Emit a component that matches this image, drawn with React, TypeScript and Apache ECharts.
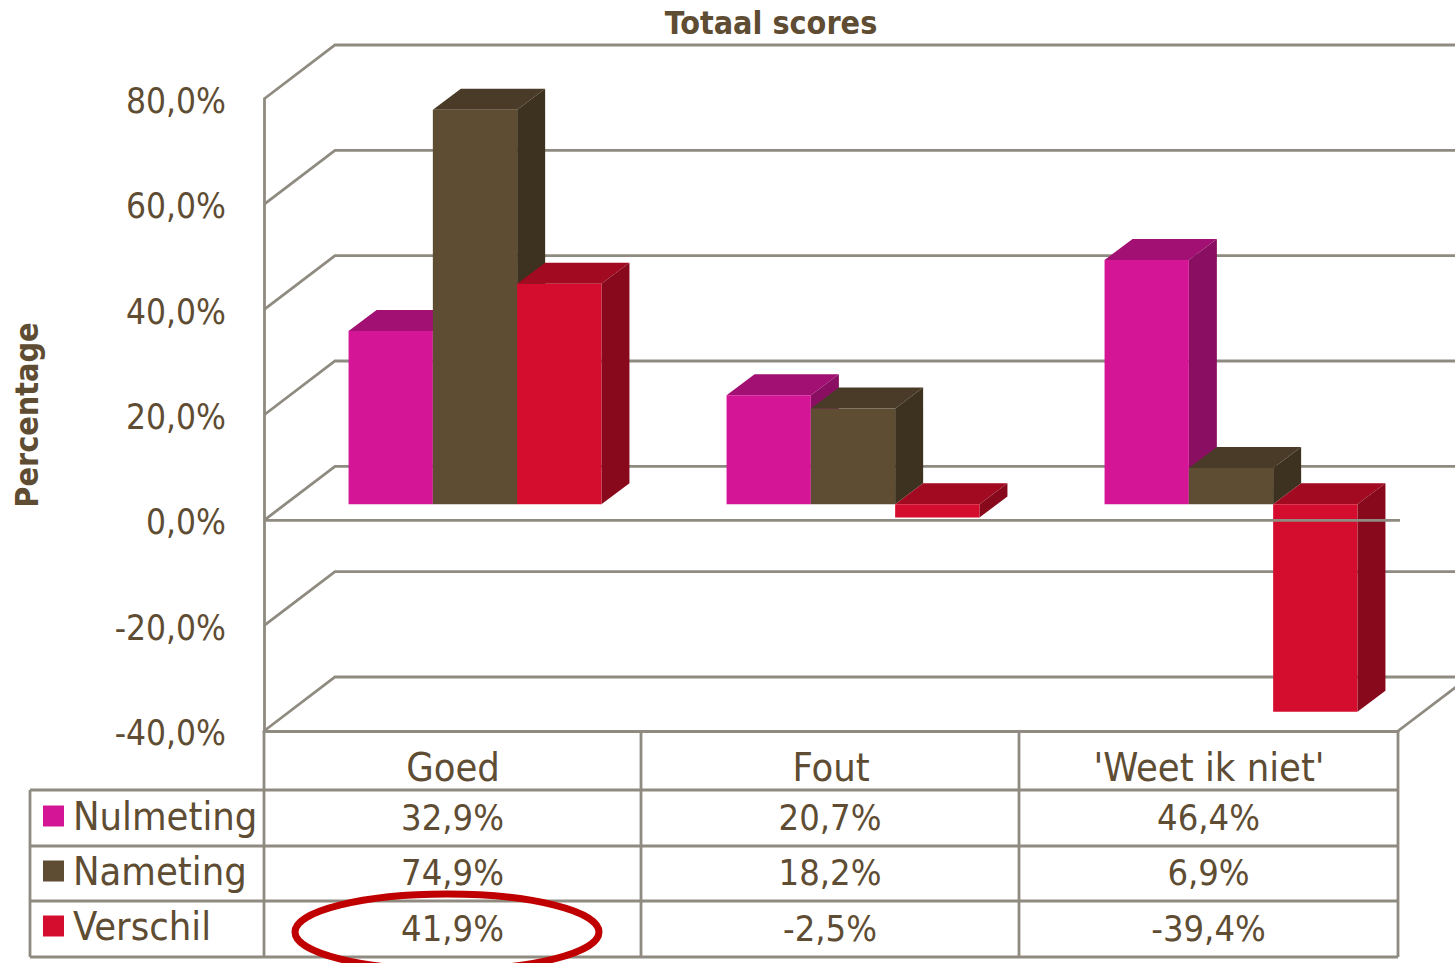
import React, { useEffect, useRef } from "react";
import * as echarts from "echarts";

const categories = ["Goed", "Fout", "'Weet ik niet'"];
const seriesNames = ["Nulmeting", "Nameting", "Verschil"];
const nulmeting = [32.9, 20.7, 46.4];
const nameting = [74.9, 18.2, 6.9];
const verschil = [41.9, -2.5, -39.4];
const yTicks = [-40, -20, 0, 20, 40, 60, 80];

const FONT = "'DejaVu Sans Condensed', 'DejaVu Sans', sans-serif";
const TEXT = "#5e4c33";
const LINE = "#8f8b80";
const LW = 2.8;
const FRONT = ["#d41696", "#5e4c33", "#d40d2e"];
const TOP = ["#a11072", "#493b27", "#a10a20"];
const SIDE = ["#8a0e62", "#3d311f", "#88091c"];
const DEPTH_X = 71, DEPTH_Y = 54;
const BAR_DX = 28, BAR_DY = 21;
const OFF_X = 22, OFF_Y = 16;

const fmt = (v: number) => v.toFixed(1).replace(".", ",") + "%";

const barSeries = (idx: number, name: string, values: number[]) => ({
  type: "custom",
  name,
  z: 3,
  itemStyle: { color: FRONT[idx] },
  data: values.map((v, i) => [i, v]),
  renderItem: (_: any, api: any) => {
    const cat = api.value(0);
    const v = api.value(1);
    const w = api.size([1, 0])[0] * 0.223;
    const cx = api.coord([cat, 0])[0] + OFF_X;
    const x0 = cx + (idx - 1.5) * w;
    const x1 = x0 + w;
    const yT = api.coord([cat, Math.max(v, 0)])[1] - OFF_Y;
    const yB = api.coord([cat, Math.min(v, 0)])[1] - OFF_Y;
    return {
      type: "group",
      children: [
        { type: "polygon", shape: { points: [[x0, yT], [x0 + BAR_DX, yT - BAR_DY], [x1 + BAR_DX, yT - BAR_DY], [x1, yT]] }, style: { fill: TOP[idx] } },
        { type: "polygon", shape: { points: [[x1, yT], [x1 + BAR_DX, yT - BAR_DY], [x1 + BAR_DX, yB - BAR_DY], [x1, yB]] }, style: { fill: SIDE[idx] } },
        { type: "rect", shape: { x: x0, y: yT, width: w, height: yB - yT }, style: { fill: FRONT[idx] } },
      ],
    };
  },
});

const wallSeries = {
  type: "custom",
  name: "wall",
  z: 1,
  silent: true,
  clip: false,
  data: yTicks.map((t) => [0, t]),
  renderItem: (params: any, api: any) => {
    const t = api.value(1);
    const y = api.coord([0, t])[1];
    const cs = params.coordSys;
    const left = cs.x;
    const right = cs.x + cs.width;
    const ls = { stroke: LINE, lineWidth: LW, fill: "none" };
    const pts: number[][] = [[left, y], [left + DEPTH_X, y - DEPTH_Y], [right + DEPTH_X, y - DEPTH_Y]];
    const children: any[] = [{ type: "polyline", shape: { points: pts }, style: ls }];
    if (t === yTicks[0]) {
      children.push({ type: "line", shape: { x1: right, y1: y, x2: right + DEPTH_X, y2: y - DEPTH_Y }, style: ls });
    }
    return { type: "group", children };
  },
};

const zeroLineSeries = {
  type: "custom",
  name: "zero",
  z: 5,
  silent: true,
  clip: false,
  data: [[0, 0]],
  renderItem: (params: any, api: any) => {
    const y = api.coord([0, api.value(1)])[1];
    const cs = params.coordSys;
    return {
      type: "line",
      shape: { x1: cs.x, y1: y, x2: cs.x + cs.width + 2, y2: y },
      style: { stroke: LINE, lineWidth: LW },
    };
  },
};

const colEdges = [264, 641, 1019, 1398];
const rowEdges = [790, 846, 901, 957];
const rowCenters = [817, 872, 928];
const rows = [nulmeting, nameting, verschil];

const hLine = (y: number, x1: number, x2: number) => ({
  type: "line", silent: true, z: 6,
  shape: { x1, y1: y, x2, y2: y }, style: { stroke: LINE, lineWidth: LW },
});
const vLine = (x: number, y1: number, y2: number) => ({
  type: "line", silent: true, z: 6,
  shape: { x1: x, y1, x2: x, y2 }, style: { stroke: LINE, lineWidth: LW },
});

const tableGraphics: any[] = [
  ...rowEdges.map((y) => hLine(y, 30, 1398)),
  vLine(30, rowEdges[0], rowEdges[3]),
  ...colEdges.map((x) => vLine(x, 731, rowEdges[3])),
];
rows.forEach((vals, r) =>
  vals.forEach((v, c) =>
    tableGraphics.push({
      type: "text", z: 7, silent: true,
      x: (colEdges[c] + colEdges[c + 1]) / 2,
      y: rowCenters[r],
      style: { text: fmt(v), fill: TEXT, font: `36px ${FONT}`, align: "center", verticalAlign: "middle" },
    })
  )
);
tableGraphics.push({
  type: "ellipse", z: 8, silent: true,
  shape: { cx: 447, cy: 932, rx: 152, ry: 38 },
  style: { fill: "none", stroke: "#c00000", lineWidth: 7 },
});

export default function App() {
  const ref = useRef<HTMLDivElement>(null);
  useEffect(() => {
    const chart = echarts.init(ref.current!, undefined, { renderer: "svg" });
    chart.setOption({
      animation: false,
      backgroundColor: "#ffffff",
      title: {
        text: "Totaal scores",
        left: 766,
        top: 2,
        textAlign: "center",
        textStyle: { color: TEXT, fontFamily: FONT, fontSize: 32, fontWeight: "bold" },
      },
      grid: { left: 264, top: 99, width: 1134, height: 632 },
      legend: {
        left: 38,
        top: 789,
        orient: "vertical",
        itemWidth: 21,
        itemHeight: 21,
        itemGap: 11,
        icon: "rect",
        selectedMode: false,
        data: seriesNames,
        textStyle: { color: TEXT, fontFamily: FONT, fontSize: 39.5, height: 44, lineHeight: 44, padding: [0, 0, 0, 4] },
      },
      xAxis: {
        type: "category",
        data: categories,
        position: "bottom",
        axisLine: { show: true, onZero: false, lineStyle: { color: LINE, width: LW } },
        axisTick: { show: false },
        axisLabel: { color: TEXT, fontFamily: FONT, fontSize: 39.5, margin: 16 },
      },
      yAxis: {
        type: "value",
        min: -40,
        max: 80,
        interval: 20,
        name: "Percentage",
        nameLocation: "middle",
        nameRotate: 90,
        nameGap: 221,
        nameTextStyle: { color: TEXT, fontFamily: FONT, fontSize: 32, fontWeight: "bold" },
        axisLine: { show: true, lineStyle: { color: LINE, width: LW } },
        axisTick: { show: false },
        splitLine: { show: false },
        axisLabel: { color: TEXT, fontFamily: FONT, fontSize: 35, margin: 38, verticalAlign: "top", lineHeight: 4, formatter: (v: number) => fmt(v) },
      },
      series: [
        wallSeries,
        barSeries(0, seriesNames[0], nulmeting),
        barSeries(1, seriesNames[1], nameting),
        barSeries(2, seriesNames[2], verschil),
        zeroLineSeries,
      ],
      graphic: tableGraphics,
    });
    return () => chart.dispose();
  }, []);
  return <div ref={ref} style={{ position: "fixed", left: 0, top: 0, width: 1455, height: 963 }} />;
}
